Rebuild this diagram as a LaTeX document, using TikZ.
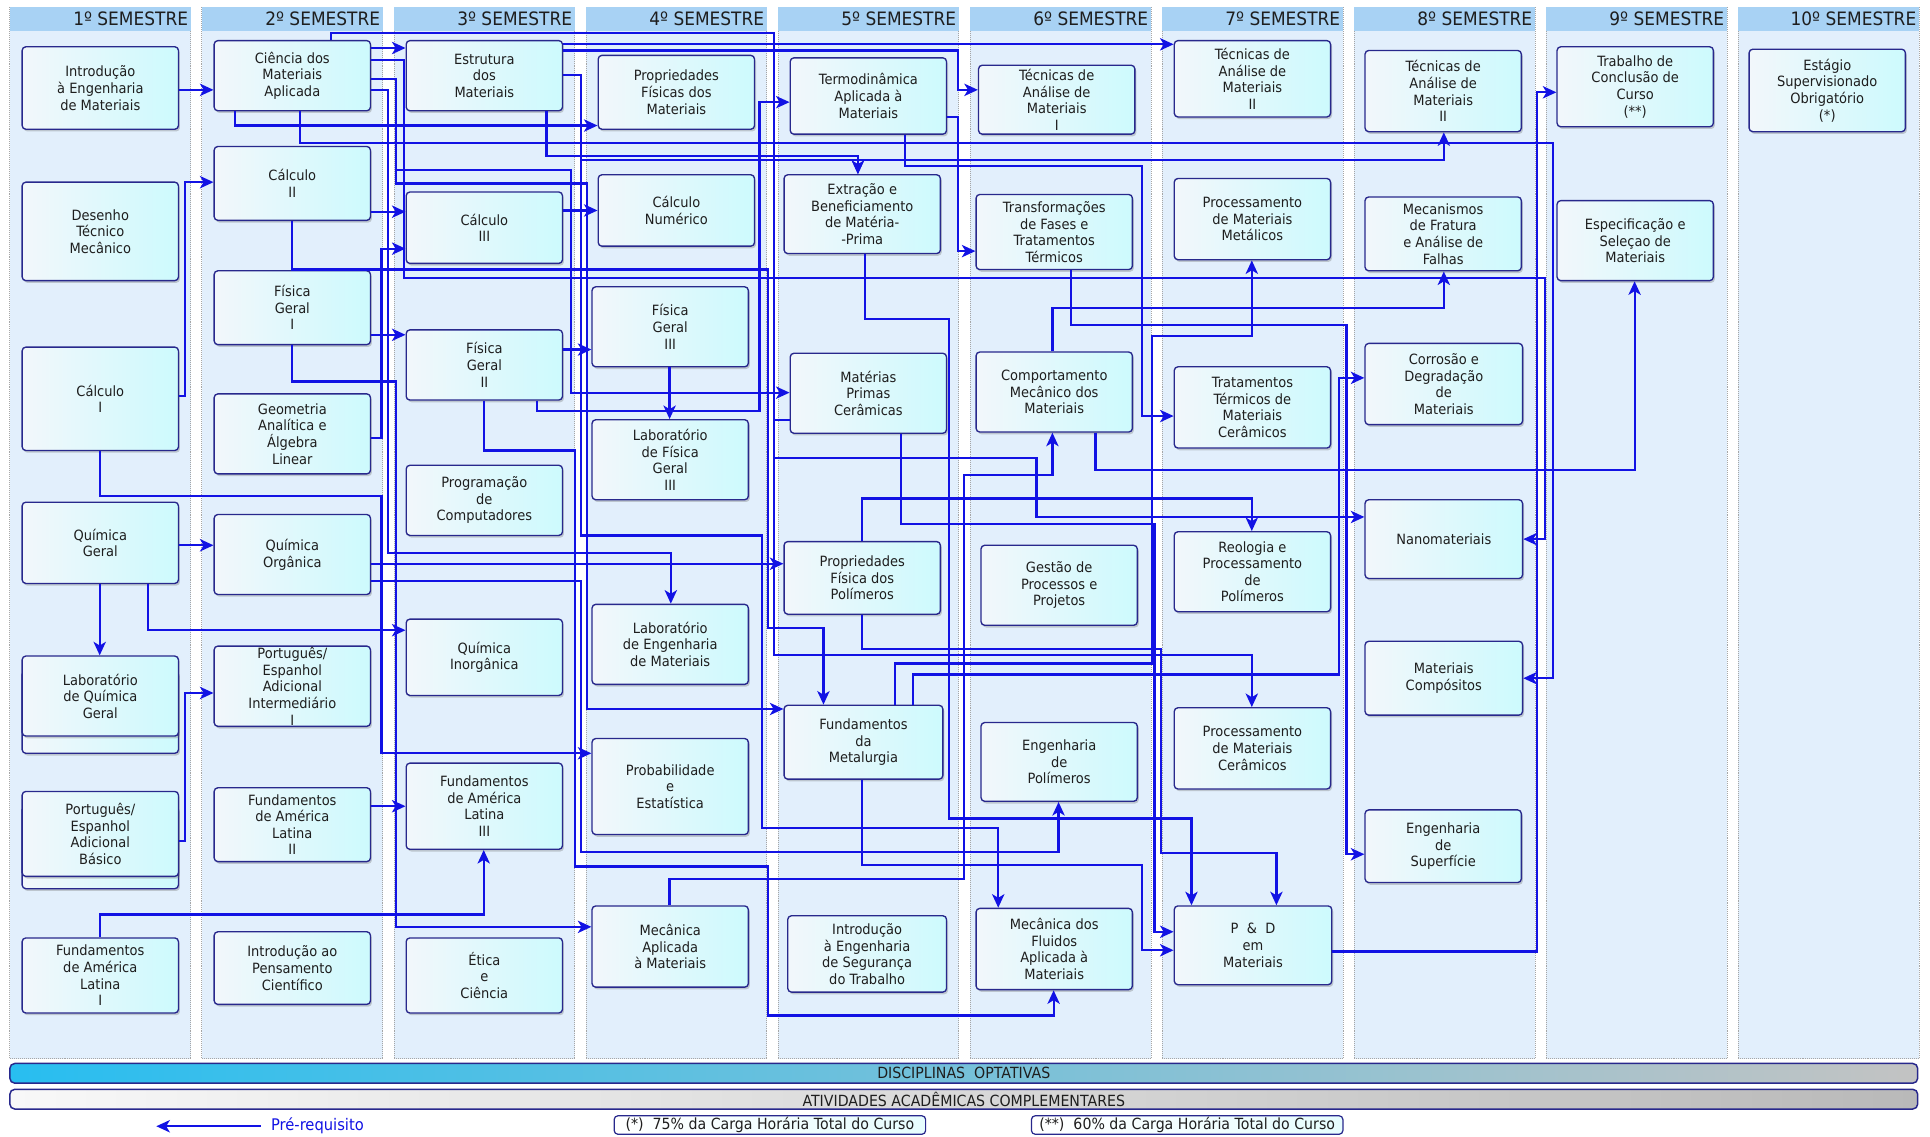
\documentclass[tikz,border=0pt]{standalone}
\usepackage{fontspec}
\setmainfont{DejaVu Sans}[FakeStretch=0.92]
\usetikzlibrary{arrows.meta,shadows}
\definecolor{conn}{RGB}{18,18,228}
\definecolor{boxborder}{RGB}{40,40,140}
\definecolor{boxL}{RGB}{242,247,251}
\definecolor{boxR}{RGB}{205,250,253}
\definecolor{lanefill}{RGB}{226,239,252}
\definecolor{headfill}{RGB}{168,210,244}
\definecolor{textc}{RGB}{30,30,30}
\definecolor{optL}{RGB}{40,190,240}
\definecolor{optM}{RGB}{70,190,230}
\definecolor{optR}{RGB}{195,195,195}
\definecolor{ativL}{RGB}{248,248,248}
\definecolor{ativR}{RGB}{185,185,185}
\newcommand{\crsbox}[6]{\node[box, minimum width={#4-#2}, minimum height={#5-#3}] (#1) at ({(#2+#4)/2},{(#3+#5)/2}) {#6};}
\tikzset{
  box/.style={draw=boxborder, line width=1.1pt, rounded corners=3pt, left color=boxL, right color=boxR,
    align=center, text=textc, inner sep=1pt, font=\fontsize{11.5}{13.5}\selectfont,
    drop shadow={shadow xshift=1.2pt, shadow yshift=-1.8pt, opacity=0.3, fill=black!60}},
  pre/.style={draw=conn, line width=1.8pt, -{Stealth[length=11pt,width=10pt,inset=3pt]}},
  headtxt/.style={font=\fontsize{15}{16}\selectfont, text=textc, inner sep=0pt},
  bar/.style={draw=boxborder, line width=1.2pt, rounded corners=4pt, font=\fontsize{12.5}{13}\selectfont, text=textc, inner sep=0pt},
  note/.style={draw=boxborder, line width=1pt, rounded corners=3pt, left color=white, right color=boxR!50!white, font=\fontsize{12.5}{13}\selectfont, text=textc, inner sep=0pt}
}
\begin{document}
\begin{tikzpicture}[x=1pt,y=-1pt]
\useasboundingbox (0,0) rectangle (1568,923);
\fill[white] (0,0) rectangle (1568,923);
% lanes
\foreach \i in {1,...,10} {
  \pgfmathsetmacro\lx{8+156*(\i-1)}
  \fill[lanefill] (\lx,6) rectangle ++(147,854);
  \draw[gray!70, densely dotted, line width=0.6pt] (\lx,6) rectangle ++(147,854);
  \fill[headfill] (\lx,6) rectangle ++(147,19);
  \node[headtxt, anchor=east] (h\i) at (\lx+145,15.5) {{\i}º SEMESTRE};
}
% bottom bars
\node[bar, left color=optL, middle color=optM, right color=optR, minimum width=1550, minimum height=16] (opt) at (783,872) {DISCIPLINAS\ \ OPTATIVAS};
\node[bar, left color=ativL, right color=ativR, minimum width=1550, minimum height=16] (ativ) at (783,893) {ATIVIDADES ACADÊMICAS COMPLEMENTARES};
\node[note, minimum width=253, minimum height=15] (n1) at (625.5,914) {(*)\ \ 75\% da Carga Horária Total do Curso};
\node[note, minimum width=253, minimum height=15] (n2) at (964.5,914) {(**)\ \ 60\% da Carga Horária Total do Curso};
\coordinate (lgA) at (212,915);
\coordinate (lgB) at (127,915);
\draw[pre] (lgA) -- (lgB);
\node[anchor=west, text=conn, font=\fontsize{13}{14}\selectfont, inner sep=0pt] (lgT) at (220,915) {Pré-requisito};
% lane 1
\crsbox{intro}{18}{38}{145}{105}{Introdução\\à Engenharia\\de Materiais}
\crsbox{desenho}{18}{148}{145}{228}{Desenho\\Técnico\\Mecânico}
\crsbox{calc1}{18}{282}{145}{366}{Cálculo\\I}
\crsbox{qgeral}{18}{408}{145}{474}{Química\\Geral}
\crsbox{labqg}{18}{545}{145}{612}{}
\crsbox{labq}{18}{533}{145}{598}{Laboratório\\de Química\\Geral}
\crsbox{portbg}{18}{655}{145}{722}{}
\crsbox{portb}{18}{643}{145}{712}{Português/\\Espanhol\\Adicional\\Básico}
\crsbox{fal1}{18}{762}{145}{823}{Fundamentos\\de América\\Latina\\I}
% lane 2
\crsbox{cma}{174}{33}{301}{90}{Ciência dos\\Materiais\\Aplicada}
\crsbox{calc2}{174}{119}{301}{179}{Cálculo\\II}
\crsbox{fis1}{174}{220}{301}{280}{Física\\Geral\\I}
\crsbox{geom}{174}{320}{301}{385}{Geometria\\Analítica e\\Álgebra\\Linear}
\crsbox{qorg}{174}{418}{301}{483}{Química\\Orgânica}
\crsbox{porti}{174}{525}{301}{590}{Português/\\Espanhol\\Adicional\\Intermediário\\I}
\crsbox{fal2}{174}{640}{301}{700}{Fundamentos\\de América\\Latina\\II}
\crsbox{ipc}{174}{757}{301}{816}{Introdução ao\\Pensamento\\Científico}
% lane 3
\crsbox{estr}{330}{33}{457}{90}{Estrutura\\dos\\Materiais}
\crsbox{calc3}{330}{156}{457}{214}{Cálculo\\III}
\crsbox{fis2}{330}{268}{457}{325}{Física\\Geral\\II}
\crsbox{prog}{330}{378}{457}{435}{Programação\\de\\Computadores}
\crsbox{qinorg}{330}{503}{457}{565}{Química\\Inorgânica}
\crsbox{fal3}{330}{620}{457}{690}{Fundamentos\\de América\\Latina\\III}
\crsbox{etica}{330}{762}{457}{823}{Ética\\e\\Ciência}
% lane 4
\crsbox{propfis}{486}{45}{613}{105}{Propriedades\\Físicas dos\\Materiais}
\crsbox{calcnum}{486}{142}{613}{200}{Cálculo\\Numérico}
\crsbox{fis3}{481}{233}{608}{298}{Física\\Geral\\III}
\crsbox{labfis}{481}{341}{608}{406}{Laboratório\\de Física\\Geral\\III}
\crsbox{labeng}{481}{491}{608}{556}{Laboratório\\de Engenharia\\de Materiais}
\crsbox{prob}{481}{600}{608}{678}{Probabilidade\\e\\Estatística}
\crsbox{mecap}{481}{736}{608}{802}{Mecânica\\Aplicada\\à Materiais}
% lane 5
\crsbox{termo}{642}{47}{769}{109}{Termodinâmica\\Aplicada à\\Materiais}
\crsbox{extr}{637}{142}{764}{206}{Extração e\\Beneficiamento\\de Matéria-\\-Prima}
\crsbox{mpc}{642}{287}{769}{352}{Matérias\\Primas\\Cerâmicas}
\crsbox{proppol}{637}{440}{764}{499}{Propriedades\\Física dos\\Polímeros}
\crsbox{fmet}{637}{573}{766}{633}{Fundamentos\\da\\Metalurgia}
\crsbox{iest}{640}{744}{769}{806}{Introdução\\à Engenharia\\de Segurança\\do Trabalho}
% lane 6
\crsbox{tec1}{795}{53}{922}{109}{Técnicas de\\Análise de\\Materiais\\I}
\crsbox{transf}{793}{158}{920}{219}{Transformações\\de Fases e\\Tratamentos\\Térmicos}
\crsbox{comp}{793}{286}{920}{351}{Comportamento\\Mecânico dos\\Materiais}
\crsbox{gest}{797}{443}{924}{508}{Gestão de\\Processos e\\Projetos}
\crsbox{engpol}{797}{587}{924}{651}{Engenharia\\de\\Polímeros}
\crsbox{mecfl}{793}{738}{920}{804}{Mecânica dos\\Fluidos\\Aplicada à\\Materiais}
% lane 7
\crsbox{tec2}{954}{33}{1081}{95}{Técnicas de\\Análise de\\Materiais\\II}
\crsbox{procmet}{954}{145}{1081}{211}{Processamento\\de Materiais\\Metálicos}
\crsbox{tratc}{954}{298}{1081}{364}{Tratamentos\\Térmicos de\\Materiais\\Cerâmicos}
\crsbox{reol}{954}{432}{1081}{497}{Reologia e\\Processamento\\de\\Polímeros}
\crsbox{proccer}{954}{575}{1081}{641}{Processamento\\de Materiais\\Cerâmicos}
\crsbox{pd}{954}{736}{1082}{800}{P\ \ \&\ \ D\\em\\Materiais}
% lane 8
\crsbox{tec2b}{1109}{41}{1236}{107}{Técnicas de\\Análise de\\Materiais\\II}
\crsbox{mecfr}{1109}{160}{1236}{220}{Mecanismos\\de Fratura\\e Análise de\\Falhas}
\crsbox{corr}{1109}{279}{1237}{345}{Corrosão e\\Degradação\\de\\Materiais}
\crsbox{nano}{1109}{406}{1237}{470}{Nanomateriais}
\crsbox{compo}{1109}{521}{1237}{581}{Materiais\\Compósitos}
\crsbox{engsup}{1109}{658}{1236}{717}{Engenharia\\de\\Superfície}
% lane 9, 10
\crsbox{tcc}{1265}{38}{1392}{103}{Trabalho de\\Conclusão de\\Curso\\(**)}
\crsbox{espec}{1265}{163}{1392}{228}{Especificação e\\Seleçao de\\Materiais}
\crsbox{estagio}{1421}{40}{1548}{107}{Estágio\\Supervisionado\\Obrigatório\\(*)}
% connectors
\draw[pre] (intro.east |- 0,73) -- (cma.west |- 0,73);
\draw[pre] (calc1.east |- 0,322) -- (150,322) -- (150,148) -- (calc2.west |- 0,148);
\draw[pre] (qgeral.east |- 0,443) -- (qorg.west |- 0,443);
\draw[pre] (qgeral.south -| 81,0) -- (labq.north -| 81,0);
\draw[pre] (qgeral.south -| 120,0) -- (120,512) -- (qinorg.west |- 0,512);
\draw[pre] (portb.east |- 0,683) -- (150,683) -- (150,563) -- (porti.west |- 0,563);
\draw[pre] (fal1.north -| 81,0) -- (81,743) -- (393,743) -- (fal3.south -| 393,0);
\draw[pre] (fal2.east |- 0,655) -- (fal3.west |- 0,655);
\draw[pre] (calc1.south -| 81,0) -- (81,403) -- (310,403) -- (310,612) -- (prob.west |- 0,612);
\draw[pre] (cma.east |- 0,39) -- (estr.west |- 0,39);
\draw[pre] (calc2.east |- 0,172) -- (calc3.west |- 0,172);
\draw[pre] (geom.east |- 0,356) -- (310,356) -- (310,202) -- (calc3.west |- 0,202);
\draw[pre] (fis1.east |- 0,272) -- (fis2.west |- 0,272);
\draw[pre] (cma.south -| 191,0) -- (191,102) -- (propfis.west |- 0,102);
\draw[pre] (calc3.east |- 0,171) -- (calcnum.west |- 0,171);
\draw[pre] (fis2.east |- 0,284) -- (fis3.west |- 0,284);
\draw[pre] (fis3.south -| 544,0) -- (labfis.north -| 544,0);
\draw[pre] (qorg.east |- 0,458) -- (proppol.west |- 0,458);
\draw[pre] (qorg.east |- 0,472) -- (472,472) -- (472,692) -- (860,692) -- (engpol.south -| 860,0);
\draw[pre] (fis2.south -| 393,0) -- (393,366) -- (467,366) -- (467,704) -- (624,704) -- (624,825) -- (856,825) -- (mecfl.south -| 856,0);
\draw[pre] (fis1.south -| 237,0) -- (237,310) -- (322,310) -- (322,753) -- (mecap.west |- 0,753);
\draw[pre] (cma.east |- 0,64) -- (322,64) -- (322,138) -- (464,138) -- (464,319) -- (mpc.west |- 0,319);
\draw[pre] (cma.east |- 0,73) -- (315,73) -- (315,449) -- (545,449) -- (labeng.north -| 545,0);
\draw[pre] (cma.east |- 0,49) -- (328,49) -- (328,226) -- (1255,226) -- (1255,438) -- (nano.east |- 0,438);
\draw[pre] (cma.south -| 244,0) -- (244,116) -- (1262,116) -- (1262,551) -- (compo.east |- 0,551);
\draw[pre] (cma.north -| 269,0) -- (269,27) -- (629,27) -- (629,127) -- (697,127) -- (extr.north -| 697,0);
\draw[pre] (estr.south -| 444,0) -- (444,127) -- (697,127) -- (extr.north -| 697,0);
\draw[pre] (estr.east |- 0,36) -- (tec2.west |- 0,36);
\draw[pre] (estr.east |- 0,41) -- (778,41) -- (778,73) -- (tec1.west |- 0,73);
\draw[pre] (estr.east |- 0,61) -- (472,61) -- (472,130) -- (1173,130) -- (tec2b.south -| 1173,0);
\draw[pre] (estr.east |- 0,61) -- (472,61) -- (472,435) -- (619,435) -- (619,673) -- (811,673) -- (mecfl.north -| 811,0);
\draw[pre] (fis2.south -| 436,0) -- (436,334) -- (617,334) -- (617,83) -- (termo.west |- 0,83);
\draw[pre] (mpc.south -| 732,0) -- (732,426) -- (938,426) -- (938,757) -- (pd.west |- 0,757);
\draw[pre] (mpc.west |- 0,341) -- (629,341) -- (629,532) -- (1017,532) -- (proccer.north -| 1017,0);
\draw[pre] (fmet.north -| 742,0) -- (742,548) -- (1088,548) -- (1088,307) -- (corr.west |- 0,307);
\draw[pre] (fmet.north -| 727,0) -- (727,539) -- (936,539) -- (936,273) -- (1017,273) -- (procmet.south -| 1017,0);
\draw[pre] (proppol.north -| 700,0) -- (700,405) -- (1017,405) -- (reol.north -| 1017,0);
\draw[pre] (proppol.south -| 700,0) -- (700,527) -- (943,527) -- (943,693) -- (1037,693) -- (pd.north -| 1037,0);
\draw[pre] (extr.south -| 703,0) -- (703,259) -- (771,259) -- (771,665) -- (968,665) -- (pd.north -| 968,0);
\draw[pre] (termo.south -| 735,0) -- (735,135) -- (928,135) -- (928,338) -- (tratc.west |- 0,338);
\draw[pre] (termo.east |- 0,95) -- (778,95) -- (778,204) -- (transf.west |- 0,204);
\draw[pre] (transf.south -| 870,0) -- (870,264) -- (1094,264) -- (1094,694) -- (engsup.west |- 0,694);
\draw[pre] (comp.north -| 855,0) -- (855,250) -- (1173,250) -- (mecfr.south -| 1173,0);
\draw[pre] (comp.south -| 890,0) -- (890,382) -- (1328,382) -- (espec.south -| 1328,0);
\draw[pre] (mecap.north -| 544,0) -- (544,714) -- (783,714) -- (783,386) -- (855,386) -- (comp.south -| 855,0);
\draw[pre] (cma.north -| 269,0) -- (269,27) -- (629,27) -- (629,372) -- (842,372) -- (842,420) -- (nano.west |- 0,420);
\draw[pre] (cma.east |- 0,64) -- (322,64) -- (322,149) -- (477,149) -- (477,576) -- (fmet.west |- 0,576);
\draw[pre] (calc2.south -| 237,0) -- (237,219) -- (624,219) -- (624,510) -- (669,510) -- (fmet.north -| 669,0);
\draw[pre] (fmet.south -| 700,0) -- (700,703) -- (928,703) -- (928,772) -- (pd.west |- 0,772);
\draw[pre] (pd.east |- 0,773) -- (1249,773) -- (1249,75) -- (tcc.west |- 0,75);
\end{tikzpicture}
\end{document}
